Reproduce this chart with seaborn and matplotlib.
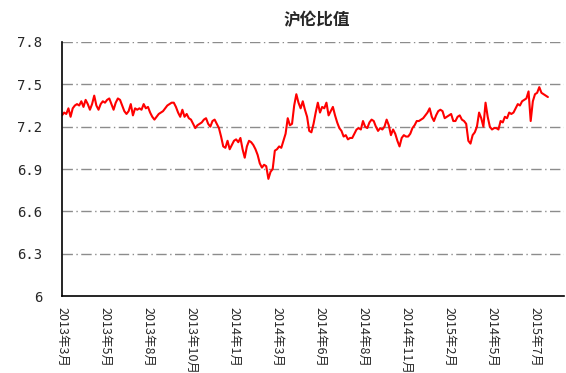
import matplotlib
matplotlib.use("Agg")
import matplotlib.pyplot as plt
import seaborn as sns
import numpy as np
import pandas as pd

title = "沪伦比值"

ratio = [
    7.28, 7.30, 7.29, 7.33, 7.27, 7.33, 7.35, 7.36, 7.35, 7.38,
    7.34, 7.39, 7.36, 7.32, 7.36, 7.42, 7.35, 7.32, 7.36, 7.38,
    7.37, 7.39, 7.40, 7.36, 7.32, 7.37, 7.40, 7.39, 7.35, 7.31,
    7.29, 7.31, 7.36, 7.28, 7.33, 7.32, 7.33, 7.32, 7.36, 7.33,
    7.34, 7.30, 7.27, 7.25, 7.27, 7.29, 7.30, 7.31, 7.33, 7.35,
    7.36, 7.37, 7.37, 7.34, 7.30, 7.27, 7.32, 7.27, 7.29, 7.26,
    7.25, 7.22, 7.19, 7.21, 7.22, 7.23, 7.25, 7.26, 7.22, 7.20,
    7.24, 7.25, 7.22, 7.19, 7.13, 7.06, 7.05, 7.10, 7.04, 7.07,
    7.10, 7.11, 7.09, 7.12, 7.04, 6.98, 7.06, 7.10, 7.09, 7.07,
    7.04, 7.00, 6.94, 6.91, 6.93, 6.92, 6.83, 6.88, 6.90, 7.03,
    7.04, 7.06, 7.05, 7.10, 7.15, 7.26, 7.21, 7.22, 7.35, 7.43,
    7.37, 7.33, 7.38, 7.32, 7.27, 7.17, 7.16, 7.22, 7.30, 7.37,
    7.30, 7.34, 7.33, 7.37, 7.28, 7.31, 7.34, 7.28, 7.23, 7.19,
    7.17, 7.13, 7.14, 7.11, 7.12, 7.12, 7.15, 7.18, 7.19, 7.18,
    7.24, 7.20, 7.19, 7.23, 7.25, 7.24, 7.20, 7.17, 7.19, 7.18,
    7.20, 7.25, 7.21, 7.14, 7.18, 7.15, 7.10, 7.06, 7.12, 7.14,
    7.13, 7.13, 7.15, 7.19, 7.21, 7.24, 7.24, 7.25, 7.26, 7.28,
    7.30, 7.33, 7.27, 7.24, 7.28, 7.31, 7.32, 7.31, 7.26, 7.27,
    7.28, 7.29, 7.24, 7.24, 7.27, 7.28, 7.25, 7.24, 7.22, 7.10,
    7.08, 7.14, 7.16, 7.20, 7.30, 7.26, 7.20, 7.37, 7.27, 7.20,
    7.18, 7.19, 7.19, 7.18, 7.24, 7.23, 7.27, 7.26, 7.30, 7.29,
    7.30, 7.33, 7.36, 7.35, 7.38, 7.39, 7.40, 7.45, 7.24, 7.38,
    7.43, 7.44, 7.48, 7.44, 7.43, 7.42, 7.41,
]

month_labels = ["2013年3月", "2013年5月", "2013年8月", "2013年10月", "2014年1月",
                "2014年3月", "2014年6月", "2014年8月", "2014年11月", "2015年2月",
                "2014年5月", "2015年7月"]
points_per_label = 20

y_ticks = [6.0, 6.3, 6.6, 6.9, 7.2, 7.5, 7.8]
y_labels = ["6", "6.3", "6.6", "6.9", "7.2", "7.5", "7.8"]

sns.set_theme(style="white")
plt.rcParams["font.family"] = ["Noto Sans CJK SC", "DejaVu Sans"]

df = pd.DataFrame({"idx": np.arange(len(ratio)), "ratio": ratio})

fig = plt.figure(figsize=(5.66, 3.73), dpi=100)
ax = fig.add_axes([0.1095, 0.2064, 0.887, 0.681])

sns.lineplot(data=df, x="idx", y="ratio", ax=ax, color="#ff0000", linewidth=1.5)

ax.set_ylim(6.0, 7.8)
ax.set_yticks(y_ticks)
ax.set_yticklabels(y_labels, fontsize=10, family=["DejaVu Sans Mono", "DejaVu Sans"])
for yv in y_ticks[1:]:
    ax.axhline(yv, color="#8c8c8c", linewidth=1.0, linestyle=(0, (7.5, 2.5, 1, 2.5)), zorder=0)

tick_pos = [i * points_per_label for i in range(len(month_labels))]
ax.set_xticks(tick_pos)
ax.set_xticklabels(month_labels, rotation=-90, fontsize=9, va="top", ha="center")
ax.set_xlim(0, 233.5)

ax.tick_params(axis="x", direction="in", length=3, width=0.8, color="black", pad=8)
ax.tick_params(axis="y", length=0, pad=14)

for s in ["top", "right"]:
    ax.spines[s].set_visible(False)
for s in ["left", "bottom"]:
    ax.spines[s].set_color("black")
    ax.spines[s].set_linewidth(1.2)

ax.set_xlabel("")
ax.set_ylabel("")
fig.text(0.56, 0.945, title, ha="center", va="center", fontsize=12, fontweight="bold")

fig.savefig("out.png", dpi=100)
